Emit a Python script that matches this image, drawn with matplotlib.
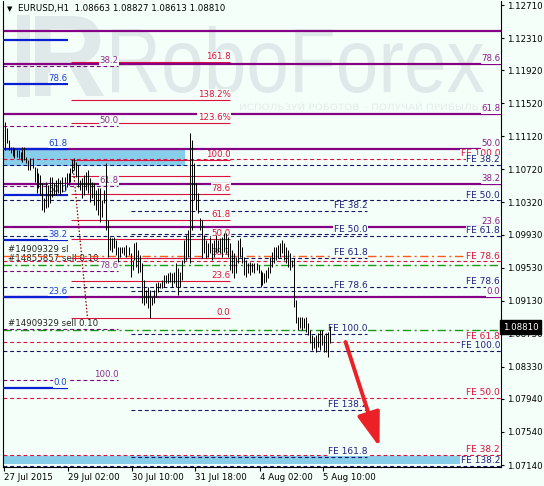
import matplotlib
matplotlib.use("Agg")
import matplotlib.pyplot as plt
from matplotlib.font_manager import FontProperties
from matplotlib.patches import FancyArrowPatch, PathPatch, Rectangle
from matplotlib.textpath import TextPath
from matplotlib.transforms import Affine2D, IdentityTransform, blended_transform_factory

# ---------------- data ----------------
title = "EURUSD,H1  1.08663 1.08827 1.08613 1.08810"
last_price = 1.08810

time_labels = ["27 Jul 2015", "29 Jul 02:00", "30 Jul 10:00",
               "31 Jul 18:00", "4 Aug 02:00", "5 Aug 10:00"]
time_label_bars = [0, 32, 64, 96, 128, 160]

price_ticks = [1.12710, 1.12310, 1.11920, 1.11520, 1.11120, 1.10720, 1.10320,
               1.09930, 1.09530, 1.09130, 1.08730, 1.08330, 1.07940, 1.07540,
               1.07140]

# H1 bars (high / low)
bar_high = [
    1.11294, 1.11221, 1.11076, 1.10991, 1.10991, 1.10979, 1.10955, 1.10955,
    1.10930, 1.10991, 1.10991, 1.10870, 1.10834, 1.10858, 1.10858, 1.10749,
    1.10737, 1.10676, 1.10652, 1.10555, 1.10373, 1.10567, 1.10531, 1.10628,
    1.10628, 1.10555, 1.10591, 1.10616, 1.10591, 1.10628, 1.10628, 1.10676,
    1.10676, 1.10737, 1.10834, 1.10858, 1.10809, 1.10773, 1.10591, 1.10616,
    1.10652, 1.10688, 1.10712, 1.10616, 1.10567, 1.10555, 1.10470, 1.10494,
    1.10494, 1.10349, 1.10470, 1.10797, 1.10107, 1.09901, 1.09889, 1.09901,
    1.09865, 1.09780, 1.09780, 1.09780, 1.09780, 1.09804, 1.09780, 1.09707,
    1.09623, 1.09829, 1.09841, 1.09744, 1.09683, 1.09586, 1.09381, 1.09259,
    1.09296, 1.09259, 1.09175, 1.09259, 1.09344, 1.09356, 1.09344, 1.09381,
    1.09441, 1.09441, 1.09465, 1.09477, 1.09465, 1.09477, 1.09586, 1.09526,
    1.09477, 1.09623, 1.09865, 1.09925, 1.09986, 1.11160, 1.11076, 1.10797,
    1.10555, 1.10434, 1.10131, 1.10107, 1.09925, 1.09865, 1.09829, 1.09901,
    1.09829, 1.09865, 1.09925, 1.09865, 1.09889, 1.09901, 1.09950, 1.09950,
    1.09901, 1.09829, 1.09744, 1.09707, 1.09659, 1.09865, 1.09889, 1.09780,
    1.09659, 1.09623, 1.09586, 1.09598, 1.09586, 1.09586, 1.09586, 1.09562,
    1.09502, 1.09477, 1.09465, 1.09502, 1.09538, 1.09659, 1.09720, 1.09780,
    1.09780, 1.09804, 1.09829, 1.09865, 1.09829, 1.09780, 1.09744, 1.09707,
    1.09623, 1.09647, 1.09138, 1.08932, 1.08932, 1.08932, 1.08920, 1.08932,
    1.08859, 1.08775, 1.08714, 1.08690, 1.08714, 1.08739, 1.08775, 1.08775,
    1.08714, 1.08739, 1.08751, 1.08827,
]
bar_low = [
    1.10955, 1.11039, 1.10955, 1.10918, 1.10882, 1.10858, 1.10870, 1.10858,
    1.10834, 1.10809, 1.10834, 1.10797, 1.10712, 1.10712, 1.10737, 1.10567,
    1.10434, 1.10494, 1.10410, 1.10228, 1.10204, 1.10252, 1.10264, 1.10313,
    1.10385, 1.10410, 1.10410, 1.10434, 1.10410, 1.10446, 1.10470, 1.10507,
    1.10531, 1.10567, 1.10676, 1.10712, 1.10628, 1.10507, 1.10470, 1.10373,
    1.10410, 1.10470, 1.10434, 1.10325, 1.10373, 1.10289, 1.10228, 1.10168,
    1.10083, 1.10143, 1.10313, 1.09986, 1.09659, 1.09744, 1.09720, 1.09768,
    1.09683, 1.09598, 1.09659, 1.09707, 1.09683, 1.09659, 1.09683, 1.09417,
    1.09502, 1.09623, 1.09538, 1.09465, 1.09477, 1.09102, 1.09078, 1.09102,
    1.09041, 1.08920, 1.09078, 1.09102, 1.09175, 1.09235, 1.09284, 1.09284,
    1.09296, 1.09344, 1.09344, 1.09356, 1.09296, 1.09344, 1.09296, 1.09199,
    1.09296, 1.09381, 1.09586, 1.09623, 1.09659, 1.09586, 1.09986, 1.10349,
    1.10228, 1.10192, 1.09986, 1.09647, 1.09707, 1.09647, 1.09659, 1.09707,
    1.09623, 1.09659, 1.09720, 1.09720, 1.09707, 1.09659, 1.09720, 1.09707,
    1.09659, 1.09502, 1.09465, 1.09405, 1.09465, 1.09586, 1.09659, 1.09586,
    1.09441, 1.09417, 1.09465, 1.09441, 1.09477, 1.09465, 1.09502, 1.09465,
    1.09296, 1.09320, 1.09344, 1.09356, 1.09405, 1.09465, 1.09538, 1.09586,
    1.09623, 1.09647, 1.09659, 1.09707, 1.09623, 1.09586, 1.09538, 1.09502,
    1.09538, 1.09054, 1.08859, 1.08775, 1.08799, 1.08775, 1.08799, 1.08751,
    1.08714, 1.08618, 1.08533, 1.08557, 1.08509, 1.08569, 1.08533, 1.08593,
    1.08509, 1.08509, 1.08448, 1.08613,
]

# fibonacci retracements: price at 0% and 100%
purple_fib = (1.0917, 1.1276)
purple_levels = [0.0, 23.6, 38.2, 50.0, 61.8, 78.6, 90.0]
blue_fib = (1.0807, 1.1276)
blue_levels = [0.0, 23.6, 38.2, 50.0, 61.8, 78.6, 90.0]
violet_fib = (1.1432, 1.0817)
violet_levels = [38.2, 50.0, 61.8, 78.6, 90.0, 100.0]
red_fib = (1.08920, 1.10834)
red_levels = [0.0, 23.6, 38.2, 50.0, 61.8, 78.6, 90.0, 100.0, 123.6, 138.2, 161.8]

# fibonacci expansions
navy_fe = (1.12166, 1.08521)
navy_fe_levels = [38.2, 50.0, 61.8, 78.6, 100.0, 138.2]
navy_fe2 = (1.11136, 1.08727)
navy_fe2_levels = [38.2, 50.0, 61.8, 78.6, 100.0, 138.2, 161.8]
red_fe = (1.05046, 1.10846)
red_fe_levels = [38.2, 50.0, 61.8, 78.6, 100.0]

# order lines
orders = ["#14909329 sl", "#14855857 sell 0.10", "#14909329 sell 0.10"]
order_prices = [1.09671, 1.09562, 1.08769]

# target zones and forecast arrow
zone_top = (1.10967, 1.10755)
zone_bottom = (1.07249, 1.07152)
arrow_from = (170.5, 1.08630)
arrow_to = (187.5, 1.07358)

# ---------------- style ----------------
BG = "#F5FFF9"
MARK = "#E0E9E9"
W, H = 544, 486
FS = 6.2
plt.rcParams["font.family"] = ["DejaVu Sans"]

fig = plt.figure(figsize=(W / 100, H / 100), dpi=100, facecolor=BG)
ax = fig.add_axes([3 / W, 19 / H, 498 / W, 466 / H], facecolor=BG)
# 2 px per bar; the quarter-bar shift puts every bar on a pixel centre
x_left, x_right = -0.75, 248.25
ax.set_xlim(x_left, x_right)
ax.set_ylim(1.07116, 1.12759)


def level_price(fib, level):
    p0, p100 = fib
    return p0 + (p100 - p0) * level / 100.0


def level_text(level, pct=False):
    s = f"{level:.1f}"
    return s + "%" if pct else s


def label(x, price, text, color, size=FS, ha="right"):
    ax.annotate(text, xy=(x, price), xytext=(0, 0.7), textcoords="offset points",
                ha=ha, va="bottom", fontsize=size, color=color, zorder=4,
                bbox=dict(boxstyle="square,pad=0.05", fc=BG, ec="none"))


def watermark(text, box, color, family="Liberation Sans", weight="normal"):
    x0, y0, x1, y1 = box
    tp = TextPath((0, 0), text, size=100, prop=FontProperties(family=family, weight=weight))
    ext = tp.get_extents()
    tr = (Affine2D().translate(-ext.x0, -ext.y0)
          .scale((x1 - x0) / ext.width, (y1 - y0) / ext.height)
          .translate(x0, H - y1))
    patch = PathPatch(tr.transform_path(tp), fc=color, ec="none",
                      transform=IdentityTransform(), zorder=0.5)
    ax.add_artist(patch)


# watermark
ax.add_artist(Rectangle((17, H - 97), 13, 82, fc=MARK, ec="none",
                        transform=IdentityTransform(), zorder=0.5))
watermark("R", (35, 16, 104, 96), MARK, weight="bold")
watermark("RoboForex", (112, 26, 484, 93), MARK)
watermark("ИСПОЛЬЗУЙ РОБОТОВ – ПОЛУЧАЙ ПРИБЫЛЬ", (240, 102, 478, 110), "#E4EBEB",
          family="DejaVu Sans")

# zones
for lo_hi, x1 in ((zone_top, 90.5), (zone_bottom, 228.5)):
    ax.add_patch(Rectangle((x_left, lo_hi[1]), x1 - x_left, lo_hi[0] - lo_hi[1],
                           fc="#87CEEB", ec="none", zorder=1))

# order lines
order_colors = ["#FF5A1E", "#179A17", "#179A17"]
for text, price, color in zip(orders, order_prices, order_colors):
    ax.hlines(price, x_left, x_right, color=color, lw=1.0,
              linestyles=[(0, (6, 2.5, 1.5, 2.5))], zorder=2)
    ax.text(2, price, text, ha="left", va="bottom", fontsize=FS, color="#222222",
            zorder=1.8, transform=ax.transData + Affine2D().translate(0, 2))

# expansions (dashed)
navy = "#14146E"
crimson = "#E0103C"
for lvl in red_fe_levels:
    p = level_price(red_fe, lvl)
    ax.hlines(p, x_left, x_right, color=crimson, lw=0.8,
              linestyles=[(0, (3.5, 2.5))], zorder=2)
for lvl in navy_fe_levels:
    p = level_price(navy_fe, lvl)
    ax.hlines(p, x_left, x_right, color=navy, lw=0.8,
              linestyles=[(0, (3.5, 2.5))], zorder=2)
for lvl in navy_fe2_levels:
    p = level_price(navy_fe2, lvl)
    ax.hlines(p, 63, 181.5, color=navy, lw=0.8,
              linestyles=[(0, (3.5, 2.5))], zorder=2)

# retracements
purple = "#850085"
for lvl in purple_levels:
    ax.hlines(level_price(purple_fib, lvl), x_left, x_right, color=purple, lw=1.6, zorder=2.5)
blue = "#0A1ED2"
for lvl in blue_levels:
    ax.hlines(level_price(blue_fib, lvl), x_left, 31.5, color=blue, lw=1.6, zorder=2.6)
for lvl in violet_levels:
    ax.hlines(level_price(violet_fib, lvl), x_left, 57, color=purple, lw=0.8,
              linestyles=[(0, (3.5, 2.5))], zorder=2.4)
for lvl in red_levels:
    ax.hlines(level_price(red_fib, lvl), 33.5, 113, color=crimson, lw=0.8, zorder=2.4)
ax.plot([34, 41.5], [red_fib[1], red_fib[0]], color="#8B0000", lw=0.9,
        ls=(0, (1.2, 1.5)), zorder=2.4)

# level labels
for lvl in purple_levels:
    if lvl != 90.0:
        label(247.8, level_price(purple_fib, lvl), level_text(lvl), "#8B1C8B")
for lvl in red_fe_levels:
    label(247.8, level_price(red_fe, lvl), f"FE {lvl:.1f}", crimson, size=FS + 0.3)
for lvl in navy_fe_levels:
    label(247.8, level_price(navy_fe, lvl), f"FE {lvl:.1f}", "#202080", size=FS + 0.3)
for lvl in navy_fe2_levels:
    label(181.5, level_price(navy_fe2, lvl), f"FE {lvl:.1f}", "#202080", size=FS + 0.3)
for lvl in blue_levels:
    if lvl != 90.0:
        label(31.5, level_price(blue_fib, lvl), level_text(lvl), "#1C3FD8")
for lvl in violet_levels:
    if lvl != 90.0:
        label(57, level_price(violet_fib, lvl), level_text(lvl), "#8B2D8B")
for lvl in red_levels:
    if lvl != 90.0:
        label(113, level_price(red_fib, lvl), level_text(lvl, lvl in (123.6, 138.2)), crimson)

# bars: thin 1 px lines like the terminal draws them
bars = range(len(bar_high))
ax.vlines(bars, bar_low, bar_high, color="black", lw=0.72, zorder=5)

# forecast arrow
ax.add_patch(FancyArrowPatch(arrow_from, arrow_to, arrowstyle="-|>,head_length=21,head_width=7",
                             mutation_scale=1, color="#EC2027", lw=2.8,
                             shrinkA=0, shrinkB=0, zorder=6))

# axes
ax.spines["top"].set_visible(False)
for side in ("left", "right", "bottom"):
    ax.spines[side].set_linewidth(0.8)
ax.yaxis.tick_right()
ax.set_yticks(price_ticks, [f"{p:.5f}" for p in price_ticks])
ax.set_xticks([b - 0.5 for b in time_label_bars], time_labels)
for t in ax.get_xticklabels():
    t.set_horizontalalignment("left")
ax.tick_params(axis="y", length=2.5, width=0.8, pad=2, labelsize=FS)
ax.tick_params(axis="x", length=3, width=0.8, pad=1.5, labelsize=FS)

# current price tag
ax.text(1.004, last_price, f"{last_price:.5f}",
        transform=blended_transform_factory(ax.transAxes, ax.transData),
        ha="left", va="center", fontsize=FS, color="white", zorder=10, clip_on=False,
        bbox=dict(boxstyle="square,pad=0.3", fc="black", ec="black"))

# header
fig.text(7 / W, 1 - 9 / H, "▼", fontsize=5, va="center", ha="left", color="black")
fig.text(18 / W, 1 - 9 / H, title, fontsize=FS, va="center", ha="left", color="black")

fig.savefig("out.png", dpi=100, facecolor=BG)
